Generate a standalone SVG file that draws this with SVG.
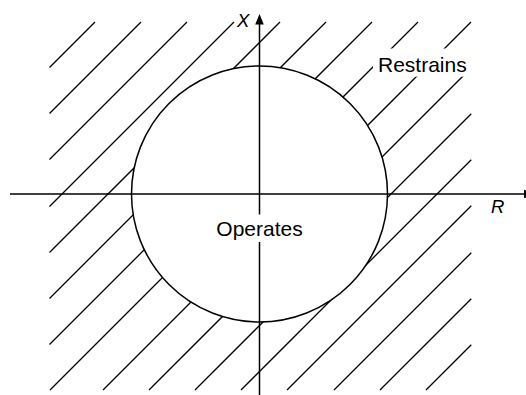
<svg xmlns="http://www.w3.org/2000/svg" width="526" height="395" viewBox="0 0 526 395">
  <style>
    .hatch { stroke: #000; stroke-width: 1.3; fill: none; }
    .axis { stroke: #000; stroke-width: 1.5; fill: none; }
    .head { fill: #000; stroke: none; }
    .bg { fill: #fff; stroke: none; }
    .lbl { font-family: "Liberation Sans", Arial, sans-serif; font-size: 21px; fill: #000; }
    .ax { font-family: "Liberation Sans", Arial, sans-serif; font-size: 18.5px; font-style: italic; fill: #000; }
  </style>
  <rect width="526" height="395" fill="#fff"/>
  <g id="hatching" class="hatch">
    <line x1="49.5" y1="67.5" x2="95" y2="22"/>
    <line x1="49.5" y1="113.5" x2="141" y2="22"/>
    <line x1="49.5" y1="159.5" x2="187" y2="22"/>
    <line x1="49.5" y1="206.5" x2="234" y2="22"/>
    <line x1="49.5" y1="252.5" x2="280" y2="22"/>
    <line x1="49.5" y1="298.5" x2="326" y2="22"/>
    <line x1="49.5" y1="344.5" x2="372" y2="22"/>
    <line x1="50" y1="390" x2="418" y2="22"/>
    <line x1="103" y1="390" x2="471" y2="22"/>
    <line x1="149" y1="390" x2="471.3" y2="67.7"/>
    <line x1="195" y1="390" x2="471.3" y2="113.7"/>
    <line x1="241" y1="390" x2="471.3" y2="159.7"/>
    <line x1="287" y1="390" x2="471.3" y2="205.7"/>
    <line x1="334" y1="390" x2="471.3" y2="252.7"/>
    <line x1="380" y1="390" x2="471.3" y2="298.7"/>
    <line x1="426" y1="390" x2="471.3" y2="344.7"/>
  </g>
  <g id="circle">
    <circle cx="259.5" cy="194" r="128" fill="#fff" stroke="#000" stroke-width="1.5"/>
  </g>
  <g id="axes">
    <line class="axis" x1="10" y1="194" x2="525" y2="194"/>
    <polygon class="head" points="524,189.7 534,194 524,198.3"/>
    <line class="axis" x1="259.5" y1="24" x2="259.5" y2="395"/>
    <polygon class="head" points="259.5,14 255.2,24.5 263.8,24.5"/>
  </g>
  <g id="label-X">
    <text class="ax" x="237" y="26.5">X</text>
  </g>
  <g id="label-R">
    <text class="ax" x="491" y="213">R</text>
  </g>
  <g id="label-restrains">
    <rect class="bg" x="373" y="48.5" width="102" height="28.2"/>
    <text class="lbl" x="378" y="72">Restrains</text>
  </g>
  <g id="label-operates">
    <rect class="bg" x="210" y="214.5" width="99" height="27.5"/>
    <text class="lbl" x="259.5" y="236" text-anchor="middle">Operates</text>
  </g>
</svg>
